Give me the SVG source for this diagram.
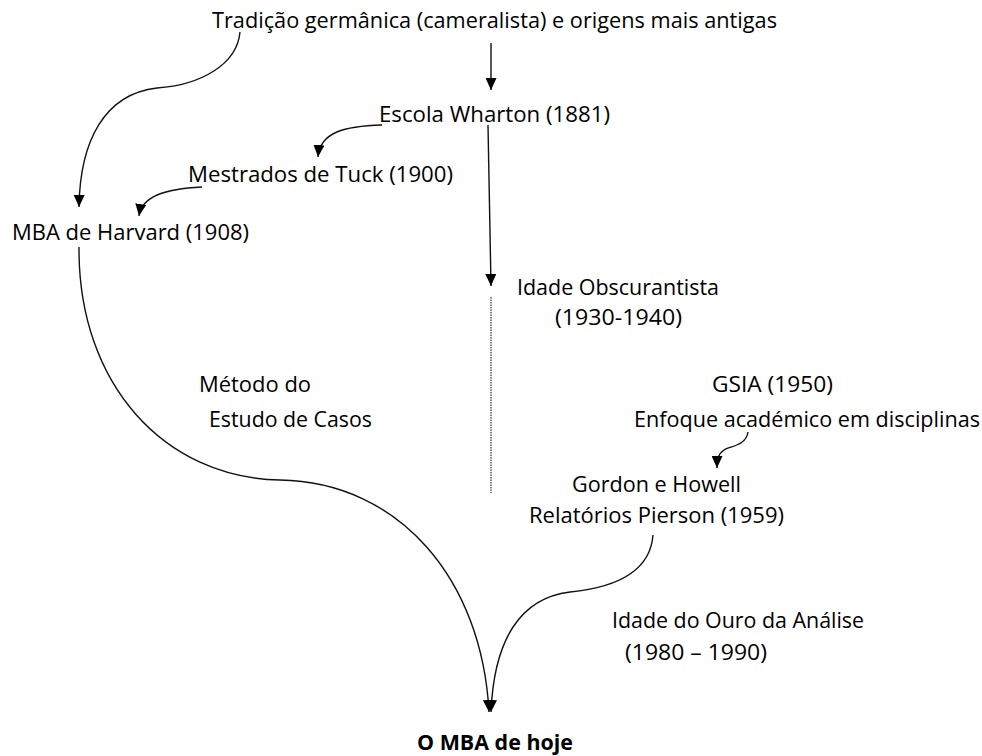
<svg xmlns="http://www.w3.org/2000/svg" width="982" height="756" viewBox="0 0 982 756">
<style>
text{font-family:"Open Sans","Liberation Sans",sans-serif;font-size:21px;fill:#000}
.b{font-weight:bold}
.c{fill:none;stroke:#111;stroke-width:1.4}
.d{fill:none;stroke:#333;stroke-width:1.2;stroke-dasharray:1.5 1}
</style>
<defs>
<marker id="ah" markerWidth="12" markerHeight="11" refX="12" refY="5.5" orient="auto" markerUnits="userSpaceOnUse" viewBox="0 0 12 11">
<path d="M0,0 L12,5.5 L0,11 Z" fill="#000"/>
</marker>
</defs>
<rect width="982" height="756" fill="#fff"/>
<g id="connectors">
<path class="c" d="M240,32 C237,65 200,85 157,88 C105,94 80,140 79,207" marker-end="url(#ah)"/>
<path class="c" d="M491,43 L491,90" marker-end="url(#ah)"/>
<path class="c" d="M382,125 C345,126 320,132 318,157" marker-end="url(#ah)"/>
<path class="c" d="M202,187 C165,189 142,196 139,216" marker-end="url(#ah)"/>
<path class="c" d="M488,125 L491,286" marker-end="url(#ah)"/>
<path class="d" d="M491,297 L491,493"/>
<path class="c" d="M79,247 C78,385 165,478 280,480 C400,482 482,580 489,712" marker-end="url(#ah)"/>
<path class="c" d="M653,535 C650,575 610,588 570,592 C520,598 494,640 491,712" marker-end="url(#ah)"/>
<path class="c" d="M748,432 C746,446 730,446 724,450 C718,454 717,460 717,468" marker-end="url(#ah)"/>
</g>
<g id="n-tradicao"><text x="212" y="28" textLength="565" lengthAdjust="spacingAndGlyphs">Tradição germânica (cameralista) e origens mais antigas</text></g>
<g id="n-wharton"><text x="379" y="122" textLength="231" lengthAdjust="spacingAndGlyphs">Escola Wharton (1881)</text></g>
<g id="n-tuck"><text x="188" y="182" textLength="265" lengthAdjust="spacingAndGlyphs">Mestrados de Tuck (1900)</text></g>
<g id="n-harvard"><text x="12" y="240" textLength="237" lengthAdjust="spacingAndGlyphs">MBA de Harvard (1908)</text></g>
<g id="n-obscurantista">
<text x="517" y="295" textLength="202" lengthAdjust="spacingAndGlyphs">Idade Obscurantista</text>
<text x="555" y="325" textLength="127" lengthAdjust="spacingAndGlyphs">(1930-1940)</text>
</g>
<g id="n-metodo">
<text x="199" y="392" textLength="112" lengthAdjust="spacingAndGlyphs">Método do</text>
<text x="209" y="427" textLength="163" lengthAdjust="spacingAndGlyphs">Estudo de Casos</text>
</g>
<g id="n-gsia">
<text x="712" y="392" textLength="121" lengthAdjust="spacingAndGlyphs">GSIA (1950)</text>
<text x="634" y="427" textLength="346" lengthAdjust="spacingAndGlyphs">Enfoque académico em disciplinas</text>
</g>
<g id="n-gordon">
<text x="572" y="492" textLength="169" lengthAdjust="spacingAndGlyphs">Gordon e Howell</text>
<text x="529" y="523" textLength="255" lengthAdjust="spacingAndGlyphs">Relatórios Pierson (1959)</text>
</g>
<g id="n-ouro">
<text x="612" y="628" textLength="252" lengthAdjust="spacingAndGlyphs">Idade do Ouro da Análise</text>
<text x="625" y="660" textLength="142" lengthAdjust="spacingAndGlyphs">(1980 – 1990)</text>
</g>
<g id="n-hoje"><text class="b" x="417" y="750" textLength="156" lengthAdjust="spacingAndGlyphs">O MBA de hoje</text></g>
</svg>
